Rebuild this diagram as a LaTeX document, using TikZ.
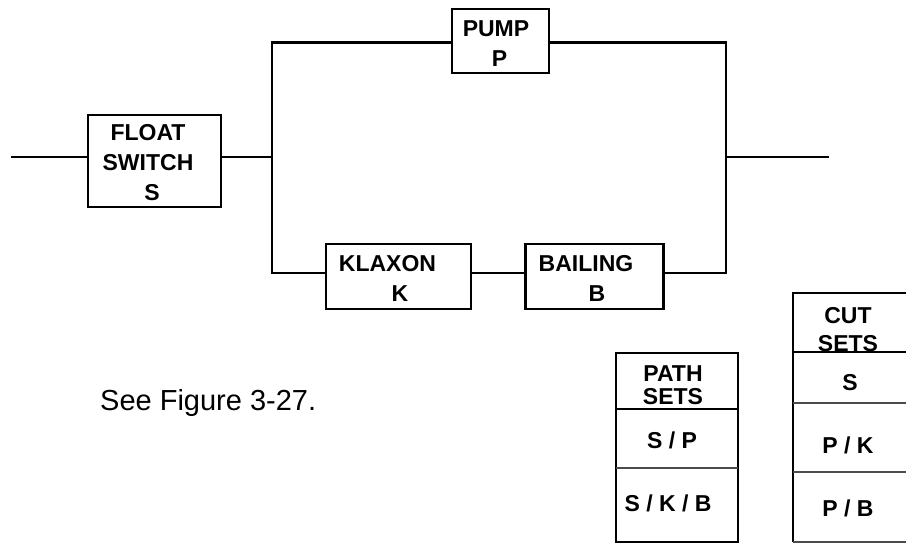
\documentclass[tikz,border=0pt]{standalone}
\usepackage{fontspec}
\setmainfont{Liberation Sans}
\begin{document}
\begin{tikzpicture}[x=1pt,y=-1pt,
  wire/.style={line width=2.8pt, line join=miter},
  blk/.style={draw, line width=2.8pt, inner sep=0pt},
  lbl/.style={font=\fontsize{23}{30}\selectfont\bfseries, align=center, inner sep=0pt},
  cellhead/.style={font=\fontsize{23}{22.5}\selectfont\bfseries, align=center, inner sep=0pt},
  cell/.style={font=\fontsize{23}{24}\selectfont\bfseries, align=center, inner sep=0pt},
  frame/.style={line width=2.8pt, line join=miter},
  rowline/.style={line width=1.8pt, black!70},
  note/.style={font=\fontsize{29}{34}\selectfont, inner sep=0pt}]
\useasboundingbox (0,0) rectangle (906,546);
\fill[white] (0,0) rectangle (906,546);

% blocks
\node[blk, minimum width=133pt, minimum height=92pt] (fs) at (154.5,161) {};
\node[lbl] (fst) at (148,163) {FLOAT\\SWITCH\\\hspace*{8pt}S};
\node[blk, minimum width=97pt, minimum height=64pt] (pump) at (500.5,41) {};
\node[lbl] (pumpt) at (496,44) {PUMP\\\hspace*{7pt}P};
\node[blk, minimum width=145pt, minimum height=65pt] (kl) at (398.5,276.5) {};
\node[lbl] (klt) at (387.5,278) {KLAXON\\\hspace*{25pt}K};
\node[blk, minimum width=138pt, minimum height=65pt] (ba) at (594.5,276.5) {};
\node[lbl] (bat) at (586,278) {BAILING\\\hspace*{22pt}B};

% connection points
\coordinate (in) at (11,157);
\coordinate (out) at (829,157);
\coordinate (jl) at (272,157);
\coordinate (jr) at (726,157);
\coordinate (tl) at (272,42.5);
\coordinate (tr) at (726,42.5);
\coordinate (bl) at (272,273);
\coordinate (br) at (726,273);

% wires
\draw[wire] (in) -- (fs.west |- in);
\draw[wire] (fs.east |- in) -- (jl);
\draw[wire] (pump.west |- tl) -- (tl) -- (bl) -- (kl.west |- bl);
\draw[wire] (kl.east |- bl) -- (ba.west |- bl);
\draw[wire] (ba.east |- br) -- (br) -- (tr) -- (pump.east |- tr);
\draw[wire] (jr) -- (out);

% note
\node[note, anchor=base west] (see) at (100,410) {See Figure 3-27.};

% path sets table
\draw[frame] (616,353) rectangle (738,542);
\draw[frame] (616,409) -- (738,409);
\draw[rowline] (616,468) -- (738,468);
\node[cellhead] (ph) at (673,385) {PATH\\SETS};
\node[cell] (p1) at (672,440) {S / P};
\node[cell] (p2) at (668,503) {S / K / B};

% cut sets table
\draw[frame] (906,293) -- (793,293) -- (793,542);
\draw[frame] (793,352) -- (906,352);
\draw[rowline] (793,403) -- (906,403);
\draw[rowline] (793,472) -- (906,472);
\draw[rowline] (793,542) -- (906,542);
\node[cellhead, font=\fontsize{23}{28}\selectfont\bfseries] (ch) at (848,330) {CUT\\SETS};
\node[cell] (c1) at (850,383) {S};
\node[cell] (c2) at (848,445) {P / K};
\node[cell] (c3) at (848,508) {P / B};
\end{tikzpicture}
\end{document}
